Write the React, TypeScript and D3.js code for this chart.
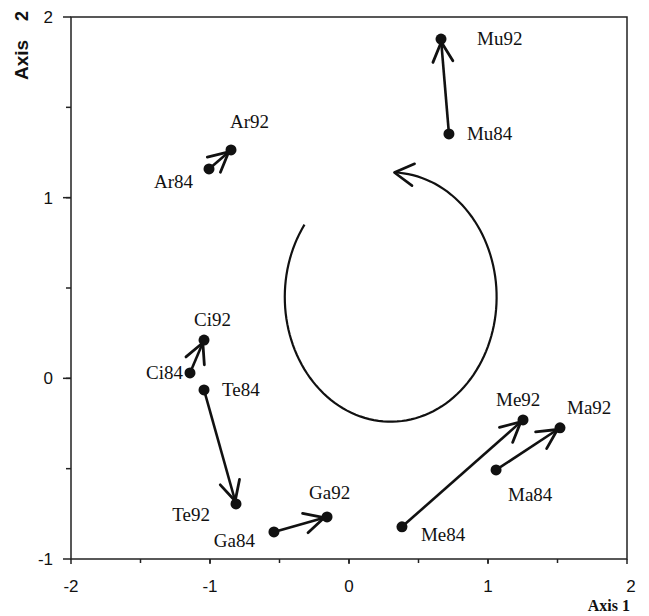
import React from "react";
import * as d3 from "d3";

const sites = ["Ar", "Mu", "Ci", "Te", "Ga", "Me", "Ma"];
const x84 = [-1.007, 0.719, -1.144, -1.043, -0.54, 0.381, 1.058];
const y84 = [1.159, 1.353, 0.03, -0.064, -0.85, -0.822, -0.507];
const x92 = [-0.849, 0.662, -1.043, -0.813, -0.158, 1.252, 1.518];
const y92 = [1.264, 1.878, 0.212, -0.695, -0.767, -0.23, -0.274];

const xTickLabels = ["-2", "-1", "0", "1", "2"];
const xTickValues = [-2, -1, 0, 1, 2];
const yTickLabels = ["-1", "0", "1", "2"];
const yTickValues = [-1, 0, 1, 2];

// rotation loop (data coordinates)
const loopCenter = [0.3, 0.45];
const loopRadii = [0.762, 0.69];
const loopAngles = [215.5, -88]; // degrees, screen-param

// label placement (px offsets from point, anchor)
const labelPos: Record<string, [number, number, string]> = {
  Ar92: [-1, -22, "start"],
  Ar84: [-16, 19, "end"],
  Mu92: [36, 6, "start"],
  Mu84: [18, 6, "start"],
  Ci92: [-10, -14, "start"],
  Ci84: [-7, 6, "end"],
  Te84: [18, 6, "start"],
  Te92: [-26, 17, "end"],
  Ga84: [-19, 15, "end"],
  Ga92: [-18, -18, "start"],
  Me92: [-27, -14, "start"],
  Ma92: [7, -14, "start"],
  Ma84: [12, 31, "start"],
  Me84: [19, 14, "start"],
};

const W = 649;
const H = 616;

export default function App() {
  const x = d3.scaleLinear().domain([-2, 2]).range([71, 627]);
  const y = d3.scaleLinear().domain([-1, 2]).range([559, 17]);

  const arrowHead = (tx: number, ty: number, ux: number, uy: number, len: number, ang: number) => {
    const a = (ang * Math.PI) / 180;
    const bx = -ux, by = -uy;
    const r = (s: number) => {
      const c = Math.cos(s * a), sn = Math.sin(s * a);
      return [tx + len * (bx * c - by * sn), ty + len * (bx * sn + by * c)];
    };
    const p1 = r(1), p2 = r(-1);
    return `M${p1[0]},${p1[1]}L${tx},${ty}L${p2[0]},${p2[1]}`;
  };

  const arrows = sites.map((s, i) => {
    const x0 = x(x84[i]), y0 = y(y84[i]);
    const x1 = x(x92[i]), y1 = y(y92[i]);
    const dx = x1 - x0, dy = y1 - y0;
    const L = Math.hypot(dx, dy);
    const ux = dx / L, uy = dy / L;
    const tx = x1 - ux * 3, ty = y1 - uy * 3;
    return { s, x0, y0, x1, y1, tx, ty, ux, uy };
  });

  // loop path
  const cxp = x(loopCenter[0]);
  const cyp = y(loopCenter[1]);
  const rxp = x(loopCenter[0] + loopRadii[0]) - cxp;
  const ryp = cyp - y(loopCenter[1] + loopRadii[1]);
  const n = 120;
  const pts: [number, number][] = d3.range(n + 1).map((k) => {
    const t = ((loopAngles[0] + (loopAngles[1] - loopAngles[0]) * (k / n)) * Math.PI) / 180;
    return [cxp + rxp * Math.cos(t), cyp + ryp * Math.sin(t)];
  });
  const loopPath = d3.line()(pts) || "";
  const last = pts[pts.length - 1];
  const prev = pts[pts.length - 4];
  const ldx = last[0] - prev[0], ldy = last[1] - prev[1];
  const ll = Math.hypot(ldx, ldy);

  const minorX = d3.range(-1.5, 2, 0.5);
  const minorY = d3.range(-0.5, 2, 0.5);

  const labels: { text: string; px: number; py: number }[] = [];
  sites.forEach((s, i) => {
    labels.push({ text: s + "84", px: x(x84[i]), py: y(y84[i]) });
    labels.push({ text: s + "92", px: x(x92[i]), py: y(y92[i]) });
  });

  const x0 = x(-2), x1 = x(2), yTop = y(2), yBot = y(-1);

  return (
    <svg
      width={W}
      height={H}
      style={{ position: "absolute", left: 0, top: 0, background: "#fff" }}
    >
      <rect x={0} y={0} width={W} height={H} fill="#fff" />
      {/* frame */}
      <rect x={x0} y={yTop} width={x1 - x0} height={yBot - yTop} fill="none" stroke="#222" strokeWidth={1.5} />
      {/* x ticks */}
      {xTickValues.map((v) => (
        <line key={"xt" + v} x1={x(v)} x2={x(v)} y1={yBot} y2={yBot + 5} stroke="#222" strokeWidth={1.5} />
      ))}
      {minorX.map((v) => (
        <line key={"xm" + v} x1={x(v)} x2={x(v)} y1={yBot} y2={yBot + 4} stroke="#222" strokeWidth={1.5} />
      ))}
      {xTickValues.map((v, i) => (
        <text key={"xl" + v} x={x(v) + (i === 4 ? 4 : 0)} y={592} textAnchor="middle" fontFamily="Liberation Sans, Arial, sans-serif" fontSize={17} fill="#111">
          {xTickLabels[i]}
        </text>
      ))}
      {/* y ticks */}
      {yTickValues.map((v) => (
        <line key={"yt" + v} x1={x0 - 8} x2={x0} y1={y(v)} y2={y(v)} stroke="#222" strokeWidth={1.5} />
      ))}
      {minorY.map((v) => (
        <line key={"ym" + v} x1={x0 - 5} x2={x0} y1={y(v)} y2={y(v)} stroke="#222" strokeWidth={1.5} />
      ))}
      {yTickValues.map((v, i) => (
        <text key={"yl" + v} x={53} y={y(v) + 6} textAnchor="end" fontFamily="Liberation Sans, Arial, sans-serif" fontSize={17} fill="#111">
          {yTickLabels[i]}
        </text>
      ))}
      {/* axis titles */}
      <text transform="translate(28,60) rotate(-90)" textAnchor="middle" fontFamily="Liberation Sans, Arial, sans-serif" fontWeight="bold" fontSize={19} fill="#111">
        Axis
      </text>
      <text transform="translate(28,16) rotate(-90)" textAnchor="middle" fontFamily="Liberation Sans, Arial, sans-serif" fontWeight="bold" fontSize={18} fill="#111">
        2
      </text>
      <text x={630} y={611} textAnchor="end" fontFamily="Liberation Serif, Times New Roman, serif" fontWeight="bold" fontSize={16} fill="#111">
        Axis 1
      </text>
      {/* loop */}
      <path d={loopPath} fill="none" stroke="#111" strokeWidth={2.2} />
      <path d={arrowHead(last[0], last[1], ldx / ll, ldy / ll, 22, 30)} fill="none" stroke="#111" strokeWidth={2.6} strokeLinecap="round" strokeLinejoin="round" />
      {/* arrows */}
      {arrows.map((a) => (
        <g key={a.s}>
          <line x1={a.x0} y1={a.y0} x2={a.tx} y2={a.ty} stroke="#111" strokeWidth={2.6} />
          <path d={arrowHead(a.tx, a.ty, a.ux, a.uy, 22, 27)} fill="none" stroke="#111" strokeWidth={2.8} strokeLinecap="round" strokeLinejoin="round" />
        </g>
      ))}
      {/* dots */}
      {labels.map((l) => (
        <circle key={"c" + l.text} cx={l.px} cy={l.py} r={5.5} fill="#111" />
      ))}
      {/* labels */}
      {labels.map((l) => {
        const p = labelPos[l.text];
        return (
          <text key={"t" + l.text} x={l.px + p[0]} y={l.py + p[1]} textAnchor={p[2] as any} fontFamily="Liberation Serif, Times New Roman, serif" fontSize={19} fill="#111">
            {l.text}
          </text>
        );
      })}
    </svg>
  );
}
